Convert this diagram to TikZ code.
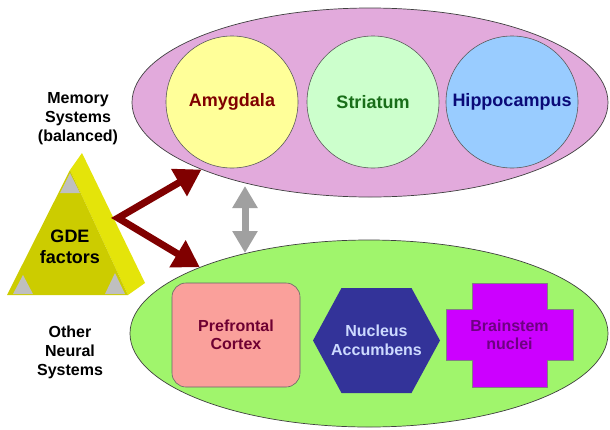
\documentclass[tikz,border=0pt]{standalone}
\usepackage{fontspec}
\setmainfont{Liberation Sans}
\usepackage{xcolor}
\usepackage{tikz}
\usetikzlibrary{shapes,arrows.meta,positioning,calc}

\definecolor{memfill}{RGB}{226,170,220}
\definecolor{othfill}{RGB}{160,245,108}
\definecolor{amyfill}{RGB}{255,255,153}
\definecolor{strfill}{RGB}{204,255,204}
\definecolor{hipfill}{RGB}{153,204,255}
\definecolor{pfcfill}{RGB}{250,160,155}
\definecolor{nacfill}{RGB}{51,51,153}
\definecolor{bsnfill}{RGB}{204,0,255}
\definecolor{gdefront}{RGB}{204,204,0}
\definecolor{gdeside}{RGB}{228,228,10}
\definecolor{arrowred}{RGB}{128,0,0}
\definecolor{arrowgray}{RGB}{160,160,160}

\begin{document}
\begin{tikzpicture}[
    x=1pt, y=-1pt,
    every node/.style={font=\bfseries},
    system/.style={ellipse, draw=black!75, line width=0.7pt, inner sep=0pt},
    region/.style={circle, draw=black!65, line width=0.6pt, minimum size=132pt, inner sep=0pt, font=\fontsize{18}{21}\selectfont\bfseries},
    part/.style={align=center, inner sep=0pt, font=\fontsize{16}{18.5}\selectfont\bfseries},
    sidelabel/.style={align=center, font=\fontsize{16}{19}\selectfont\bfseries},
    redarrow/.style={{Triangle[length=26pt,width=30pt]}-{Triangle[length=26pt,width=30pt]}, line width=7pt, line join=miter, arrowred},
    grayarrow/.style={{Triangle[length=22pt,width=24pt]}-{Triangle[length=22pt,width=24pt]}, line width=7pt, arrowgray},
]
\useasboundingbox (0,0) rectangle (610,429);

% --- Memory systems (top ellipse) ---
\node[system, fill=memfill, minimum width=476pt, minimum height=189pt] (memory) at (370,102.5) {};
\node[region, fill=amyfill, text=arrowred] (amygdala) at (232,102) {Amygdala};
\node[region, fill=strfill, text={rgb,255:red,25;green,110;blue,25}] (striatum) at (373,102) {Striatum};
\node[region, fill=hipfill, text={rgb,255:red,10;green,10;blue,120}] (hippo) at (512,102) {Hippocampus};

% --- Other neural systems (bottom ellipse) ---
\node[system, fill=othfill, minimum width=478pt, minimum height=187pt] (other) at (369,333.5) {};
\node[part, rectangle, rounded corners=14pt, draw=black!60, line width=0.6pt, fill=pfcfill,
      minimum width=128pt, minimum height=104pt, text={rgb,255:red,110;green,0;blue,50}] (pfc) at (236,335) {Prefrontal\\Cortex};

% --- Hexagon for nucleus accumbens ---
\coordinate (nac) at (376.5,340.5);
\fill[nacfill] ($(nac)+(-63.5,0)$) -- ($(nac)+(-35,-52.5)$) -- ($(nac)+(35,-52.5)$)
    -- ($(nac)+(63.5,0)$) -- ($(nac)+(35,52.5)$) -- ($(nac)+(-35,52.5)$) -- cycle;
\node[part, text={rgb,255:red,205;green,218;blue,255}] (nacc) at (nac) {Nucleus\\Accumbens};

% --- Cross shape for brainstem ---
\coordinate (bsc) at (509.5,335);
\fill[bsnfill, draw=black!50, line width=0.4pt] ($(bsc)+(-37.5,-52)$) -- ($(bsc)+(37.5,-52)$) -- ($(bsc)+(37.5,-25.5)$)
    -- ($(bsc)+(63.5,-25.5)$) -- ($(bsc)+(63.5,25.5)$) -- ($(bsc)+(37.5,25.5)$) -- ($(bsc)+(37.5,52)$)
    -- ($(bsc)+(-37.5,52)$) -- ($(bsc)+(-37.5,25.5)$) -- ($(bsc)+(-63.5,25.5)$) -- ($(bsc)+(-63.5,-25.5)$)
    -- ($(bsc)+(-37.5,-25.5)$) -- cycle;
\node[part, text={rgb,255:red,110;green,0;blue,130}] (brainstem) at (bsc) {Brainstem\\nuclei};

% --- GDE triangle ---
\fill[gdeside] (70,170) -- (82,153) -- (145,283) -- (128,295) -- cycle;
\fill[gdefront] (70,170) -- (7,295) -- (128,295) -- cycle;
\fill[black!25] (70,173) -- (60,193) -- (80,193) -- cycle;
\fill[black!25] (23,275) -- (13,294) -- (33,294) -- cycle;
\fill[black!25] (115,273) -- (105,294) -- (125,294) -- cycle;
\node[align=center, font=\fontsize{18}{21}\selectfont\bfseries] (gde) at (70,247) {GDE\\factors};

% --- Side labels ---
\node[sidelabel] (memlabel) at (78,119) {Memory\\Systems\\(balanced)};
\node[sidelabel] (othlabel) at (70,352) {Other\\Neural\\Systems};

% --- Arrows ---
\coordinate (split) at (118,218);
\coordinate (gaptop) at (245,186);
\coordinate (gapbot) at (245,253);
\draw[redarrow] (memory.south west) -- (split) -- (other.north west);
\draw[grayarrow] (gaptop) -- (gapbot);

\end{tikzpicture}
\end{document}
